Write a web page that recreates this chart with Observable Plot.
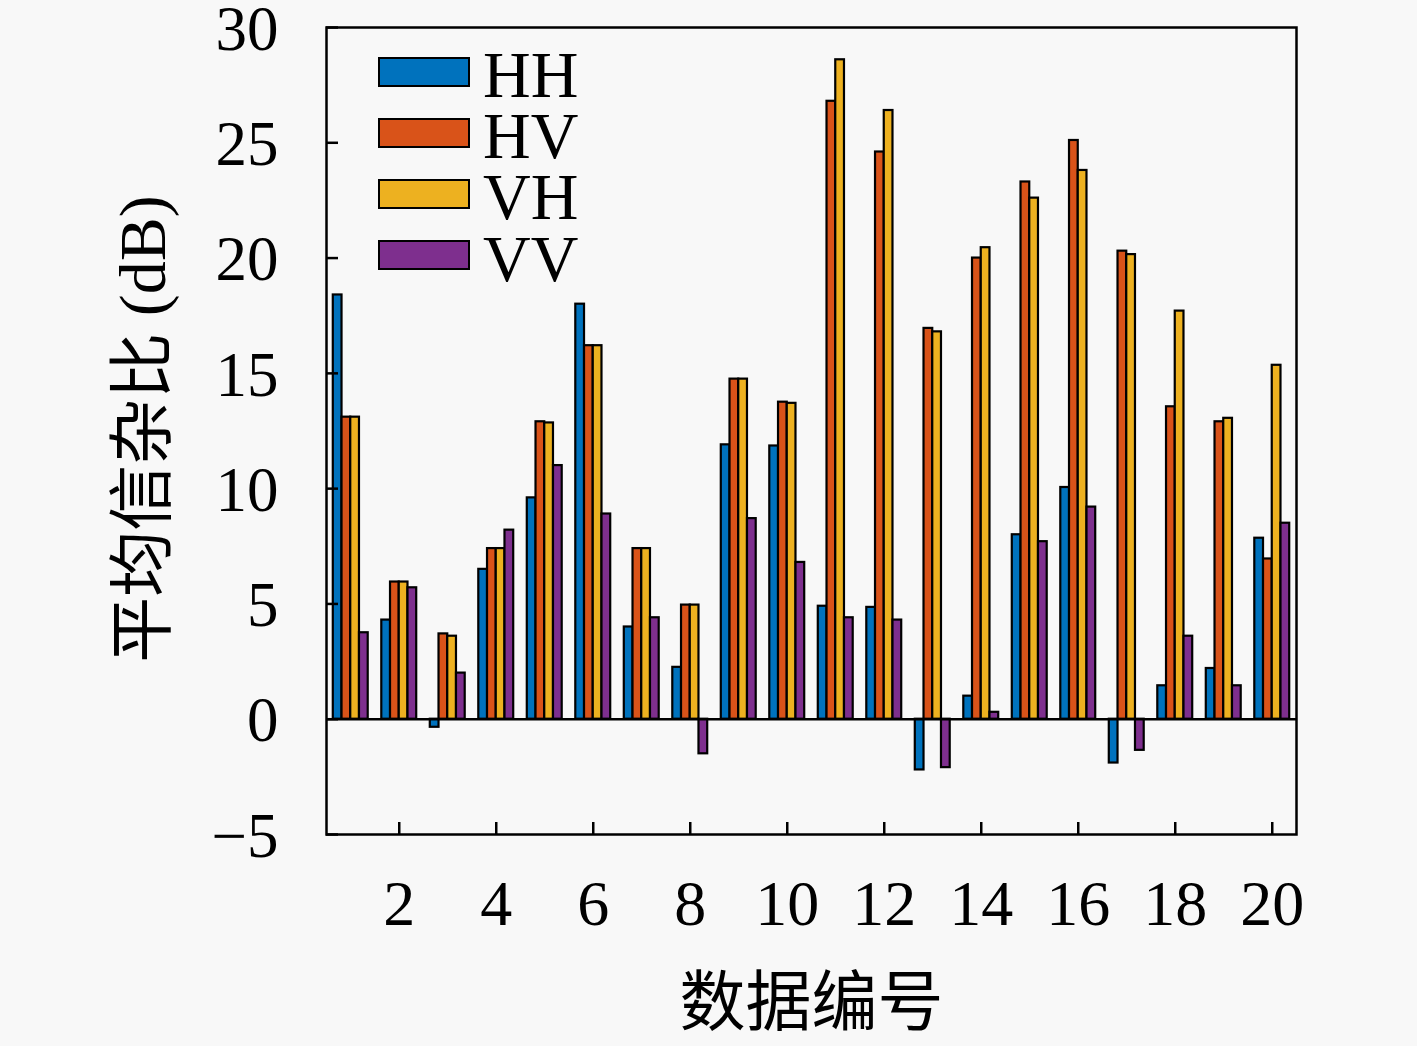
<!DOCTYPE html>
<html>
<head>
<meta charset="utf-8">
<script src="https://cdn.jsdelivr.net/npm/d3@7"></script>
<script src="https://cdn.jsdelivr.net/npm/@observablehq/plot@0.6"></script>
<style>
  html, body { margin: 0; padding: 0; background: #f8f8f8; }
  #wrap { position: relative; width: 1417px; height: 1046px; overflow: hidden; }
  #swatches { position: absolute; left: 378px; top: 41px; }
  .row { display: flex; align-items: center; height: 61.2px; }
  .sw { width: 92px; height: 30px; box-sizing: border-box; border: 2.5px solid #000; }
  #labels { position: absolute; left: 483px; top: 44px; font-family: "Liberation Serif", "DejaVu Serif", serif; font-size: 66px; line-height: 61.2px; color: #000; white-space: pre; }
</style>
</head>
<body>
<div id="wrap"><div id="swatches"></div><div id="labels"></div></div>
<script>
const groups = d3.range(1, 21);
const series = ["HH", "HV", "VH", "VV"];
const colors = ["#0072BD", "#D95319", "#EDB120", "#7E2F8E"];
const HH = [18.4, 4.3, -0.35, 6.5, 9.6, 18.0, 4.0, 2.25, 11.9, 11.85, 4.9, 4.85, -2.2, 1.0, 8.0, 10.05, -1.9, 1.45, 2.2, 7.85];
const HV = [13.1, 5.95, 3.7, 7.4, 12.9, 16.2, 7.4, 4.95, 14.75, 13.75, 26.8, 24.6, 16.95, 20.0, 23.3, 25.1, 20.3, 13.55, 12.9, 6.95];
const VH = [13.1, 5.95, 3.6, 7.4, 12.85, 16.2, 7.4, 4.95, 14.75, 13.7, 28.6, 26.4, 16.8, 20.45, 22.6, 23.8, 20.15, 17.7, 13.05, 15.35];
const VV = [3.75, 5.7, 2.0, 8.2, 11.0, 8.9, 4.4, -1.5, 8.7, 6.8, 4.4, 4.3, -2.1, 0.3, 7.7, 9.2, -1.35, 3.6, 1.45, 8.5];
const xTicks = [2, 4, 6, 8, 10, 12, 14, 16, 18, 20];
const yTicks = [-5, 0, 5, 10, 15, 20, 25, 30];
const yLabel = "平均信杂比 (dB)";
const xLabel = "数据编号";

const values = [HH, HV, VH, VV];
const rows = [];
series.forEach((s, i) => values[i].forEach((v, j) => rows.push({g: groups[j], s, i, v})));

const barW = 0.18;
const font = '"Liberation Serif", "Noto Sans CJK SC", serif';
const fmt = d => d < 0 ? "\u2212" + Math.abs(d) : String(d);

const chart = Plot.plot({
  width: 1417,
  height: 1046,
  marginLeft: 326,
  marginRight: 121,
  marginTop: 27,
  marginBottom: 212,
  style: {background: "transparent", fontFamily: font, fontSize: "64px", color: "#000", overflow: "visible"},
  x: {domain: [0.5, 20.5], axis: null},
  y: {domain: [-5, 30], axis: null},
  color: {domain: series, range: colors},
  marks: [
    Plot.rect(rows, {
      x1: d => d.g + (d.i - 2) * barW,
      x2: d => d.g + (d.i - 1) * barW,
      y1: 0,
      y2: "v",
      fill: "s",
      stroke: "#000",
      strokeWidth: 2.2
    }),
    Plot.ruleY([0], {stroke: "#000", strokeWidth: 2.5}),
    Plot.frame({stroke: "#000", strokeWidth: 2.5}),
    Plot.axisY(yTicks, {tickSize: 0, tickPadding: 48, dy: 2, fontSize: 63, tickFormat: fmt, label: null}),
    Plot.axisY(yTicks, {tickSize: 12, dx: 12, tickFormat: () => "", strokeWidth: 2.5, label: null}),
    Plot.axisX(xTicks, {tickSize: 0, tickPadding: 45, fontSize: 64, tickFormat: fmt, label: null}),
    Plot.axisX(xTicks, {tickSize: 12, dy: -12, tickFormat: () => "", strokeWidth: 2.5, label: null}),
    Plot.text([yLabel], {text: d => d, frameAnchor: "left", dx: -183, dy: -2, rotate: -90, fontSize: 66, textAnchor: "middle"}),
    Plot.text([xLabel], {text: d => d, frameAnchor: "bottom", dy: 190, fontSize: 66, textAnchor: "middle"})
  ]
});

const wrap = document.getElementById("wrap");
wrap.insertBefore(chart, wrap.firstChild);

const sws = document.getElementById("swatches");
series.forEach((s, i) => {
  const row = document.createElement("div");
  row.className = "row";
  const sw = document.createElement("div");
  sw.className = "sw";
  sw.style.background = colors[i];
  row.appendChild(sw);
  sws.appendChild(row);
});
document.getElementById("labels").textContent = series.join("\n");
</script>
</body>
</html>
